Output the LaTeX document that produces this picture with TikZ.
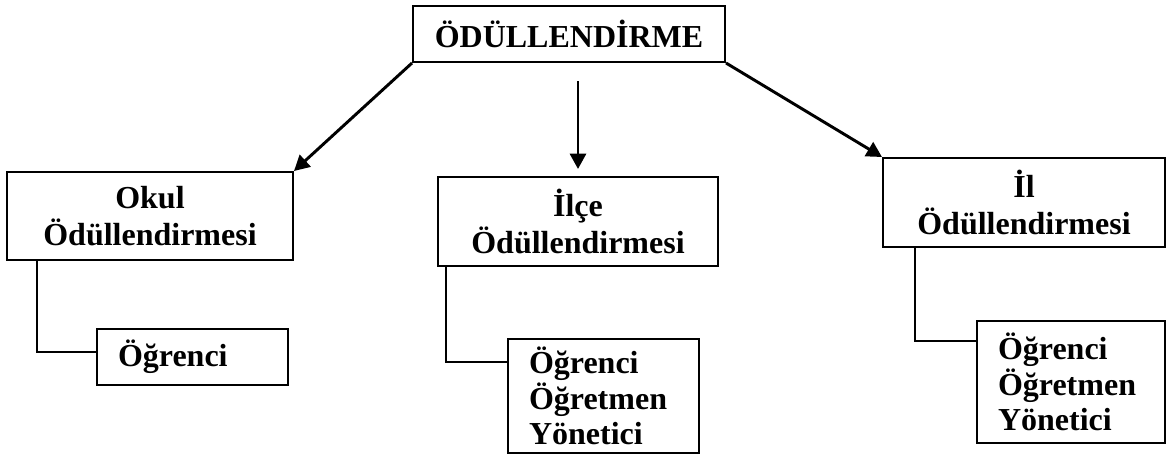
\documentclass[tikz,border=0pt]{standalone}
\usepackage{fontspec}
\setmainfont{Liberation Serif}
\usetikzlibrary{arrows.meta}
\newcommand{\pxl}{0.75pt}

\begin{document}
\begin{tikzpicture}[x=0.75pt, y=-0.75pt,
            box/.style={rectangle, draw, line width=1.5pt, align=center, inner sep=0pt, font=\fontsize{24}{28}\selectfont\bfseries},
            list/.style={rectangle, draw, line width=1.5pt, align=left, inner xsep=21*\pxl, inner ysep=0pt, font=\fontsize{24}{26.5}\selectfont\bfseries},
            arrow/.style={-{Triangle[length=11.5pt, width=12pt]}, line width=2.2pt},
            link/.style={line width=1.5pt}
            ]
            \useasboundingbox (0,0) rectangle (1168,464);

            % Main node
            \node[box, minimum width=312*\pxl, minimum height=56*\pxl] (odul) at (569,34) {ÖDÜLLENDİRME};

            % Levels
            \node[box, minimum width=286*\pxl, minimum height=88*\pxl] (okul) at (150,216) {Okul\\Ödüllendirmesi};
            \node[box, minimum width=280*\pxl, minimum height=89*\pxl] (ilce) at (578,221.5) {İlçe\\Ödüllendirmesi};
            \node[box, minimum width=282*\pxl, minimum height=89*\pxl] (il) at (1024,202.5) {İl\\Ödüllendirmesi};

            % Who gets rewarded
            \node[list, text width=149*\pxl, minimum height=56*\pxl] (ogr1) at (192.5,357) {Öğrenci};
            \node[list, text width=149*\pxl, minimum height=114*\pxl] (ogr2) at (603.5,396) {Öğrenci\\Öğretmen\\Yönetici};
            \node[list, text width=146*\pxl, minimum height=122*\pxl] (ogr3) at (1071,382) {Öğrenci\\Öğretmen\\Yönetici};

            % Arrows from main node
            \draw[arrow] (odul.south west) -- (okul.north east);
            \draw[arrow, shorten <=18*\pxl, shorten >=7*\pxl] (ilce.north |- odul.south) -- (ilce.north);
            \draw[arrow] (odul.south east) -- (il.north west);

            % Links to lists
            \draw[link] ([xshift=31*\pxl]okul.south west) |- ([yshift=-24*\pxl]ogr1.north west);
            \draw[link] ([xshift=9*\pxl]ilce.south west) |- ([yshift=-24*\pxl]ogr2.north west);
            \draw[link] ([xshift=33*\pxl]il.south west) |- ([yshift=-21*\pxl]ogr3.north west);

        \end{tikzpicture}
\end{document}
